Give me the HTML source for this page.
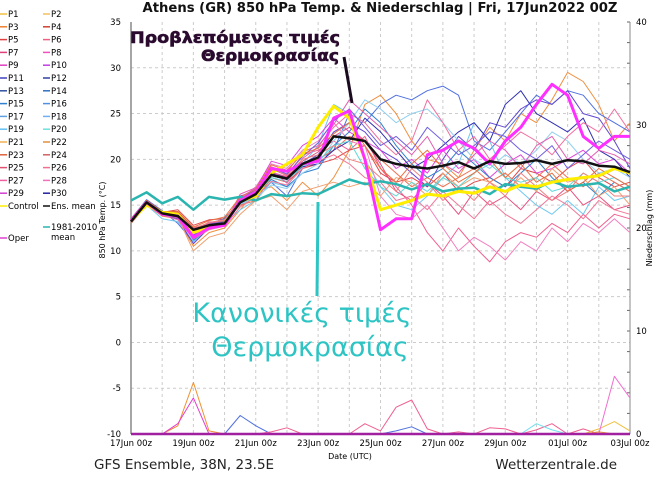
<!DOCTYPE html>
<html><head><meta charset="utf-8"><style>
body{margin:0;background:#fff;width:660px;height:481px;overflow:hidden;font-family:"Liberation Sans","DejaVu Sans",sans-serif}
svg text{font-family:"DejaVu Sans","Liberation Sans",sans-serif}
</style></head><body>
<svg id="chart" width="660" height="481" viewBox="0 0 660 481" xmlns="http://www.w3.org/2000/svg">
<text x="380" y="12" font-size="13.2" font-weight="bold" text-anchor="middle" fill="#111">Athens  (GR)  850 hPa Temp. &amp; Niederschlag | Fri, 17Jun2022 00Z</text>
<g id="grid"></g>
<g id="axes"></g>
<g id="precip"></g>
<g id="series"></g>
<g id="legend"></g>
<text transform="translate(105,220) rotate(-90)" font-size="8" text-anchor="middle">850 hPa Temp. (°C)</text>
<text transform="translate(652,228) rotate(-90)" font-size="8" text-anchor="middle">Niederschlag (mm)</text>
<text x="350" y="459" font-size="8" text-anchor="middle">Date (UTC)</text>
<text x="94" y="469" font-size="13.5" fill="#222">GFS Ensemble, 38N, 23.5E</text>
<text x="617" y="469" font-size="13.5" text-anchor="end" fill="#222">Wetterzentrale.de</text>
<g>
<text x="235" y="43" font-size="16" font-weight="bold" text-anchor="middle" fill="#2a0a2e" stroke="#2a0a2e" stroke-width="0.6" textLength="210" lengthAdjust="spacingAndGlyphs" style="font-family:'DejaVu Sans',sans-serif">Προβλεπόμενες τιμές</text>
<text x="270" y="61" font-size="16" font-weight="bold" text-anchor="middle" fill="#2a0a2e" stroke="#2a0a2e" stroke-width="0.6" textLength="138" lengthAdjust="spacingAndGlyphs" style="font-family:'DejaVu Sans',sans-serif">Θερμοκρασίας</text>
<line x1="344" y1="57" x2="352" y2="103" stroke="#1a0a1e" stroke-width="3"/>
</g>
<g>
<line x1="318" y1="202" x2="317" y2="296" stroke="#2ec4c4" stroke-width="3"/>
<text x="302" y="322" font-size="27" text-anchor="middle" fill="#2ec4c4" style="font-family:'DejaVu Sans',sans-serif">Κανονικές τιμές</text>
<text x="310" y="356" font-size="27" text-anchor="middle" fill="#2ec4c4" style="font-family:'DejaVu Sans',sans-serif">Θερμοκρασίας</text>
</g>
</svg>
<script>
const xTickLabels=["17Jun 00z","19Jun 00z","21Jun 00z","23Jun 00z","25Jun 00z","27Jun 00z","29Jun 00z","01Jul 00z","03Jul 00z"];
const yTicks=[35,30,25,20,15,10,5,0,-5,-10];
const y2Ticks=[40,30,20,10,0];
const ensMean=[13.2,15.3,14.1,13.8,12.3,12.8,13.0,15.3,16.2,18.3,17.9,19.5,20.2,22.5,22.3,22.0,20.0,19.5,19.2,19.0,19.3,19.7,19.0,19.8,19.5,19.6,19.9,19.5,19.9,19.8,19.3,19.2,18.6];
const clim=[15.5,16.4,15.2,15.9,14.5,15.9,15.6,15.9,15.5,16.2,16.0,16.3,16.2,17.0,17.8,17.3,17.6,17.3,16.7,17.3,16.5,16.8,16.9,16.2,17.3,17.0,16.8,17.6,17.0,17.2,17.4,16.5,17.0];
const oper=[13.3,15.3,14.0,13.8,11.5,12.5,12.8,15.5,16.4,19.0,18.7,19.5,19.8,24.5,25.3,20.0,12.3,13.5,13.5,20.5,21.0,22.0,21.2,19.5,22.0,23.5,26.0,28.2,27.0,22.5,21.2,22.5,22.5];
const control=[13.3,15.0,14.2,14.0,12.0,12.6,13.0,15.4,16.0,18.5,19.5,20.5,23.5,25.8,24.5,20.0,14.5,15.0,15.5,16.2,16.0,16.5,16.3,17.0,16.5,17.2,17.0,17.5,17.8,18.0,18.2,19.0,18.5];
const m1=[13.0,15.0,13.8,13.5,10.5,12.0,12.5,14.5,16.5,17.0,15.5,17.5,16.0,18.0,21.0,26.0,27.0,25.0,22.0,20.0,19.5,18.0,21.0,23.5,22.0,25.0,24.0,26.5,29.5,28.5,26.0,22.0,24.0];
const m2=[13.5,15.6,14.4,13.0,11.0,13.0,13.5,15.0,16.0,17.5,16.0,19.0,20.0,21.0,25.0,24.0,26.0,27.0,26.5,27.5,28.0,27.0,22.0,21.0,23.0,25.0,27.0,26.0,27.5,27.0,25.0,24.0,23.0];
const m3=[13.2,15.2,14.0,14.3,12.5,13.0,12.8,15.8,16.5,19.0,18.2,20.5,21.0,22.0,21.0,22.5,19.0,17.0,15.0,12.0,10.0,12.5,10.5,8.8,11.0,12.0,11.5,13.0,12.0,14.0,12.5,14.0,13.5];
const m4=[13.0,15.0,13.5,13.2,11.0,12.5,13.0,14.5,15.5,17.5,17.0,19.5,21.5,26.0,25.0,20.0,17.0,15.0,14.5,16.0,18.0,19.5,24.0,22.0,18.0,16.5,15.0,14.0,15.5,14.0,17.0,15.5,16.0];
const m5=[13.4,15.3,14.2,14.5,12.8,13.4,13.5,15.5,16.0,18.0,17.5,19.0,19.5,20.0,21.0,21.5,18.5,17.5,18.0,17.0,18.5,16.5,17.5,18.0,17.0,19.0,18.5,17.5,19.0,20.0,18.0,17.0,17.5];
const m6=[13.3,15.4,13.9,13.5,10.8,12.5,13.0,16.0,16.5,18.5,18.0,19.5,20.5,23.0,24.0,23.0,21.0,20.0,18.5,17.0,20.0,22.5,21.0,24.0,23.5,25.5,26.5,26.0,27.5,25.0,24.5,22.0,19.0];
const m7=[13.1,15.1,14.0,14.0,12.0,13.2,13.0,15.6,17.0,19.5,19.0,21.0,22.0,24.0,22.0,21.5,16.0,14.0,13.5,15.0,12.5,10.0,11.5,10.5,9.0,11.0,10.0,12.5,11.0,13.0,12.0,13.5,12.0];
const m8=[13.3,15.3,14.3,13.9,11.8,12.8,13.2,15.9,16.8,19.8,19.3,21.5,22.5,24.5,23.0,22.0,21.0,19.0,20.0,18.5,21.0,19.0,20.0,18.0,19.5,20.5,18.5,19.0,20.0,21.0,19.5,20.0,18.5];
const m9=[13.5,15.4,14.1,13.7,11.2,12.4,13.6,15.2,16.2,17.8,17.0,18.5,19.0,21.5,23.0,25.5,24.0,21.5,19.5,18.0,19.0,21.0,19.5,18.0,17.0,18.5,20.0,18.0,16.5,17.5,16.0,17.5,16.5];
const m10=[13.0,15.0,14.0,14.2,12.3,12.9,13.3,15.0,15.5,18.0,17.5,19.5,20.0,21.0,22.5,22.0,20.0,18.5,17.0,18.0,17.0,18.0,19.0,17.5,18.5,17.0,18.0,19.5,18.0,17.0,18.5,17.5,16.5];
const m11=[13.4,15.5,14.2,14.0,12.2,13.0,13.0,15.3,16.1,18.2,17.8,19.2,19.5,21.0,22.0,24.5,23.0,21.0,19.0,20.0,21.5,23.0,24.0,22.0,26.0,27.5,25.0,24.0,23.0,24.5,21.0,20.0,18.0];
const m12=[13.2,15.2,14.0,13.8,12.1,12.7,13.1,15.4,16.3,18.6,18.1,19.8,20.8,22.5,23.5,22.0,19.5,16.5,15.5,17.5,16.0,14.0,16.5,15.0,16.0,14.5,16.5,15.5,17.0,15.0,16.0,14.5,15.0];
const m13=[13.3,15.3,14.1,13.6,11.5,12.6,13.0,15.1,15.8,17.2,16.8,18.5,19.5,22.0,24.0,26.5,25.5,24.0,25.0,25.5,24.0,22.0,20.0,19.0,20.5,19.5,21.0,23.0,22.0,20.0,18.5,19.0,18.0];
const m14=[13.2,15.0,13.9,13.7,10.0,11.5,12.0,14.0,15.5,16.0,14.5,16.5,17.0,17.5,17.0,17.5,16.0,18.0,17.5,16.0,18.5,17.0,18.0,17.5,16.5,18.0,16.5,19.0,17.5,18.0,16.0,17.0,15.0];
const m15=[13.3,15.2,14.1,14.0,12.2,13.0,13.4,15.7,16.6,19.2,18.6,20.8,21.5,23.5,25.0,24.0,22.0,20.5,22.0,26.5,24.0,21.0,22.5,20.0,21.5,23.0,22.0,20.5,22.5,24.0,23.0,25.5,23.0];
const m16=[13.3,15.1,14.0,13.8,11.6,12.7,13.1,15.2,16.0,18.0,17.6,19.3,19.8,21.5,22.0,19.0,17.0,16.0,17.5,16.5,18.0,17.0,18.5,19.5,18.0,17.5,18.0,16.5,17.0,18.5,17.5,18.0,17.0];
const m17=[13.4,15.4,14.0,13.6,11.9,13.1,12.9,16.2,16.9,18.8,17.4,20.1,21.3,23.8,26.5,25.0,23.5,22.0,20.5,22.5,19.5,18.5,20.5,22.0,21.0,19.0,21.5,22.5,20.0,19.5,21.0,20.5,19.5];
const m18=[13.1,15.2,14.2,14.1,12.4,13.1,13.4,15.3,16.4,18.9,18.3,20.0,20.5,21.5,20.0,19.5,18.0,16.5,19.0,17.5,15.5,17.0,15.5,17.5,16.0,18.5,17.0,15.5,16.5,18.5,17.5,16.0,16.0];
const m19=[13.3,15.3,14.1,13.9,11.7,12.9,13.2,15.6,16.7,19.1,18.4,20.3,21.8,24.2,25.5,23.5,21.5,22.5,21.0,23.5,22.0,20.5,21.5,23.0,22.5,21.0,20.0,21.5,19.0,20.5,22.0,21.0,20.0];
const m20=[13.2,15.1,13.9,13.4,11.3,12.3,12.7,14.8,15.9,17.6,17.2,19.0,19.8,20.5,19.5,18.0,17.5,15.5,16.0,14.5,16.5,15.0,13.5,15.5,14.0,13.0,14.5,16.0,15.0,13.5,15.5,14.5,14.0];
const m21=[13.5,15.5,14.3,14.3,12.6,13.3,13.7,15.9,16.7,19.4,18.8,20.6,21.2,22.8,24.0,21.5,19.0,17.5,19.5,21.0,19.0,17.5,18.5,20.0,18.0,19.5,17.5,18.5,16.5,17.5,19.0,18.0,17.0];
const pOrange=[0,0,0,0.8,5.0,0.3,0,0,0,0,0,0,0,0,0,0,0,0,0,0,0,0,0,0,0,0,0,0,0,0,0.2,0,0];
const pMagenta=[0,0,0,1.0,3.5,0,0,0,0,0,0,0,0,0,0,0,0,0,0,0,0,0,0,0,0,0,0,0,0,0,0,0,0];
const pBlue=[0,0,0,0,0,0,0,1.8,0.8,0,0,0,0,0,0,0,0,0.3,0.7,0,0,0,0,0,0,0,0,0,0,0,0,0,0];
const pPink=[0,0,0,0,0,0,0,0,0,0.2,0.6,0,0,0,0,1.0,0.3,2.6,3.3,0.5,0,0.2,0,0.6,0.5,0,0.4,1.0,0,0.5,0,0,0];
const pPink2=[0,0,0,0,0,0,0,0,0,0,0,0,0,0,0,0,0,0,0,0,0,0,0,0,0,0,0,0,0,0,0,5.6,3.5];
const pCyan=[0,0,0,0,0,0,0,0,0,0,0,0,0,0,0,0,0,0,0,0,0,0,0,0,0,0,1.0,0.4,0,0,0,0,0];
const pYellow=[0,0,0,0,0,0,0,0,0,0,0,0,0,0,0,0,0,0,0,0,0,0,0,0,0,0,0,0,0,0,0.5,1.2,0.3];

const NS="http://www.w3.org/2000/svg";
const X0=131,X1=630,Y_TOP=22,Y_BOT=434;
const xs=t=>X0+t*(X1-X0)/32;
const ys=v=>Y_TOP+(35-v)*(Y_BOT-Y_TOP)/45;
const yp=v=>Y_BOT-v*(Y_BOT-Y_TOP)/40;
function mk(tag,attrs,parent){const e=document.createElementNS(NS,tag);for(const k in attrs)e.setAttribute(k,attrs[k]);parent.appendChild(e);return e;}
const grid=document.getElementById('grid'),axes=document.getElementById('axes');
for(let d=1;d<16;d++){const l=mk('line',{x1:xs(d*2),x2:xs(d*2),y1:Y_TOP,y2:Y_BOT,stroke:'#ccc','stroke-dasharray':'3,3'},grid);

}
yTicks.forEach(v=>{if(v>-10&&v<35){const l=mk('line',{x1:X0,x2:X1,y1:ys(v),y2:ys(v),stroke:'#ccc','stroke-dasharray':'3,3'},grid);

}
const t=mk('text',{x:X0-10,y:ys(v)+3,'font-size':8.5,'text-anchor':'end'},axes);t.textContent=v;

});
y2Ticks.forEach(v=>{const t=mk('text',{x:X1+6,y:yp(v)+3,'font-size':8.5},axes);t.textContent=v;

});
for(let v=0;v<=40;v+=2){mk('line',{x1:X1-3,x2:X1,y1:yp(v),y2:yp(v),stroke:'#666'},axes);}
xTickLabels.forEach((s,i)=>{const t=mk('text',{x:xs(i*4),y:446,'font-size':8.5,'text-anchor':'middle'},axes);t.textContent=s;

});
mk('line',{x1:X0,x2:X0,y1:Y_TOP,y2:Y_BOT,stroke:'#888','stroke-width':1.5},axes);
mk('line',{x1:X1,x2:X1,y1:Y_TOP,y2:Y_BOT,stroke:'#888','stroke-width':1},axes);
function path(arr,fy,color,w,parent,name){const d=arr.map((v,i)=>(i?'L':'M')+xs(i).toFixed(1)+','+fy(v).toFixed(1)).join('');
const p=mk('path',{d:d,fill:'none',stroke:color,'stroke-width':w,'stroke-linejoin':'round'},parent);

}
const pg=document.getElementById('precip');
path(pBlue,yp,'#5070e0',1,pg,'precip-p14');
path(pPink,yp,'#f06090',1,pg,'precip-p26');
path(pCyan,yp,'#70e0f0',1,pg,'precip-p20');
path(pYellow,yp,'#f0c040',1,pg,'precip-p2');
path(pOrange,yp,'#f09030',1,pg,'precip-p3');
path(pMagenta,yp,'#e040d0',1,pg,'precip-p10');
path(pPink2,yp,'#f070d0',1,pg,'precip-p28');
mk('line',{x1:X0,x2:X1,y1:Y_BOT,y2:Y_BOT,stroke:'#a020a0','stroke-width':2.5},pg);
const sg=document.getElementById('series');
const members=[[m1,'#f09040'],[m2,'#5070e0'],[m3,'#f06090'],[m4,'#70c8f0'],[m5,'#e04848'],[m6,'#6048d0'],[m7,'#f080c0'],[m8,'#e048d8'],[m9,'#3080d0'],[m10,'#f07050'],[m11,'#3030b0'],[m12,'#e85080'],[m13,'#90d0f0'],[m14,'#f0a070'],[m15,'#f070a0'],[m16,'#60d8d8'],[m17,'#e060b0'],[m18,'#f08080'],[m19,'#7060e0'],[m20,'#f07898'],[m21,'#e87040']];
members.forEach((m,i)=>path(m[0],ys,m[1],1,sg,'member-p'+(i+1)));
path(clim,ys,'#2ab5b0',2.5,sg,'climate-mean-line');
path(control,ys,'#ffee00',3,sg,'control-line');
path(oper,ys,'#ff30ff',3,sg,'oper-line');
path(ensMean,ys,'#111',2.5,sg,'ens-mean-line');
const lg=document.getElementById('legend');
const leg1=[['P1','#f0c040'],['P3','#f08030'],['P5','#e04040'],['P7','#e0407a'],['P9','#e040c0'],['P11','#4040c0'],['P13','#3050a0'],['P15','#3080d0'],['P17','#60a0e0'],['P19','#60c0f0'],['P21','#f0b050'],['P23','#e06040'],['P25','#e05070'],['P27','#f060a0'],['P29','#d040d0'],['Control','#ffee00']];
const leg2=[['P2','#f0c060'],['P4','#d04030'],['P6','#f06080'],['P8','#f050c0'],['P10','#c040e0'],['P12','#3040a0'],['P14','#3070c0'],['P16','#5090e0'],['P18','#70b0f0'],['P20','#70e0e0'],['P22','#e09040'],['P24','#d06060'],['P26','#f07090'],['P28','#f070c0'],['P30','#2020a0'],['Ens. mean','#111']];
function legItem(x,y,lab,col){const g=mk('g',{},lg);


mk('line',{x1:x,x2:x+7,y1:y-3,y2:y-3,stroke:col,'stroke-width':1.5},g);
const t=mk('text',{x:x+8,y:y,'font-size':8.5},g);t.textContent=lab;}
leg1.forEach((e,i)=>legItem(0,17+i*12.8,e[0],e[1]));
leg2.forEach((e,i)=>legItem(43,17+i*12.8,e[0],e[1]));
legItem(0,241,'Oper','#e040d0');
legItem(43,230,'1981-2010','#2ab5b0');
const mt=mk('text',{x:51,y:240,'font-size':8.5},lg);mt.textContent='mean';
</script>
</body></html>
